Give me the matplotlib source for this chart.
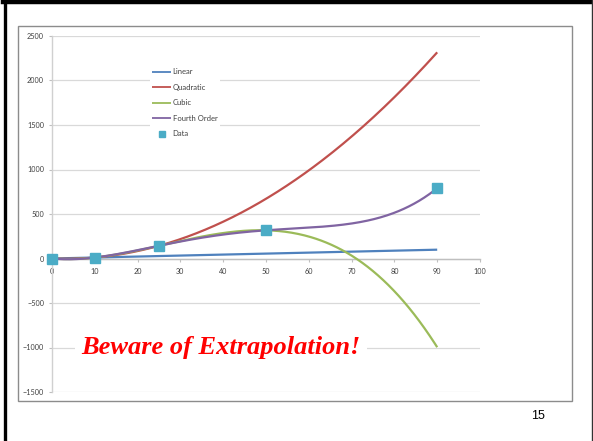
import numpy as np
import matplotlib
matplotlib.use("Agg")
import matplotlib.pyplot as plt
from matplotlib import patches
from matplotlib.lines import Line2D

# measured points
x_data = [0, 10, 25, 50, 90]
y_data = [0, 11, 143, 317, 790]

# polynomial of order k fitted through the first k+1 points
fit_names = ["Linear", "Quadratic", "Cubic", "Fourth Order"]
fit_orders = [1, 2, 3, 4]
fit_colors = ["#4F81BD", "#C0504D", "#9BBB59", "#8064A2"]
data_color = "#4BACC6"

x_ticks = list(range(0, 101, 10))
y_ticks = list(range(-1500, 2501, 500))

W, H = 593, 441
fig = plt.figure(figsize=(W / 100, H / 100), dpi=100)
fig.patch.set_facecolor("white")


def fx(px):
    return px / W


def fy(py):
    return (H - py) / H


ax = fig.add_axes([fx(52), fy(392), fx(480) - fx(52), fy(36) - fy(392)])

xs = np.array(x_data, dtype=float)
ys = np.array(y_data, dtype=float)
xx = np.linspace(0, 90, 300)
for name, k, c in zip(fit_names, fit_orders, fit_colors):
    coef = np.polyfit(xs[: k + 1], ys[: k + 1], k)
    ax.plot(xx, np.polyval(coef, xx), color=c, lw=1.6, label=name,
            solid_capstyle="butt", zorder=3)

ax.plot(xs, ys, "s", color=data_color, ms=6.5, label="Data", zorder=4,
        clip_on=False)

ax.set_xlim(0, 100)
ax.set_ylim(-1500, 2500)
ax.set_xticks(x_ticks)
ax.set_yticks(y_ticks)

for s in ["top", "right"]:
    ax.spines[s].set_visible(False)
ax.spines["bottom"].set_position(("data", 0))
ax.spines["bottom"].set_color("#BFBFBF")
ax.spines["left"].set_color("#D0D0D0")
ax.spines["bottom"].set_linewidth(1.0)
ax.spines["left"].set_linewidth(1.0)
ax.yaxis.grid(True, color="#D9D9D9", lw=0.9)
ax.set_axisbelow(True)
ax.tick_params(axis="both", direction="out", length=2.2, width=0.8,
               color="#BFBFBF", labelsize=5.2, labelcolor="#404040")
ax.tick_params(axis="x", pad=4.5)
ax.tick_params(axis="y", pad=3.5)
for lab in ax.get_xticklabels() + ax.get_yticklabels():
    lab.set_family("Lato")

leg = ax.legend(loc="upper left", bbox_to_anchor=(0.229, 0.916),
                borderaxespad=0, frameon=True, fancybox=False,
                edgecolor="none", facecolor="white", framealpha=1,
                prop={"family": "Lato", "size": 5.5}, labelspacing=1.12,
                handlelength=2.5, handletextpad=0.15, borderpad=0.3,
                markerscale=0.7)
for t in leg.get_texts():
    t.set_color("#404040")
for h in leg.get_lines():
    h.set_linewidth(1.3)

ax.text(39.5, -1000, "Beware of Extrapolation!", color="red", fontsize=19,
        fontweight="bold", fontstyle="italic", family="Liberation Serif",
        ha="center", va="center", zorder=5,
        bbox=dict(boxstyle="square,pad=0.25", facecolor="white",
                  edgecolor="none"))

# chart area frame
fig.add_artist(patches.Rectangle((fx(18), fy(401)), fx(572) - fx(18),
                                 fy(26) - fy(401), transform=fig.transFigure,
                                 fill=False, edgecolor="#8C8C8C", lw=1.0))

# slide border
fig.add_artist(Line2D([fx(3), fx(592)], [fy(2), fy(2)], color="black",
                      lw=3.2, transform=fig.transFigure))
fig.add_artist(Line2D([fx(4.5), fx(4.5)], [fy(0), fy(H + 5)], color="black",
                      lw=2.4, transform=fig.transFigure))
fig.add_artist(Line2D([fx(591.5), fx(591.5)], [fy(0), fy(H + 5)],
                      color="#333333", lw=1.0, transform=fig.transFigure))

fig.text(fx(538), fy(416), "15", fontsize=9, family="Liberation Sans",
         ha="center", va="center", color="black")

fig.savefig("out.png", dpi=100)
